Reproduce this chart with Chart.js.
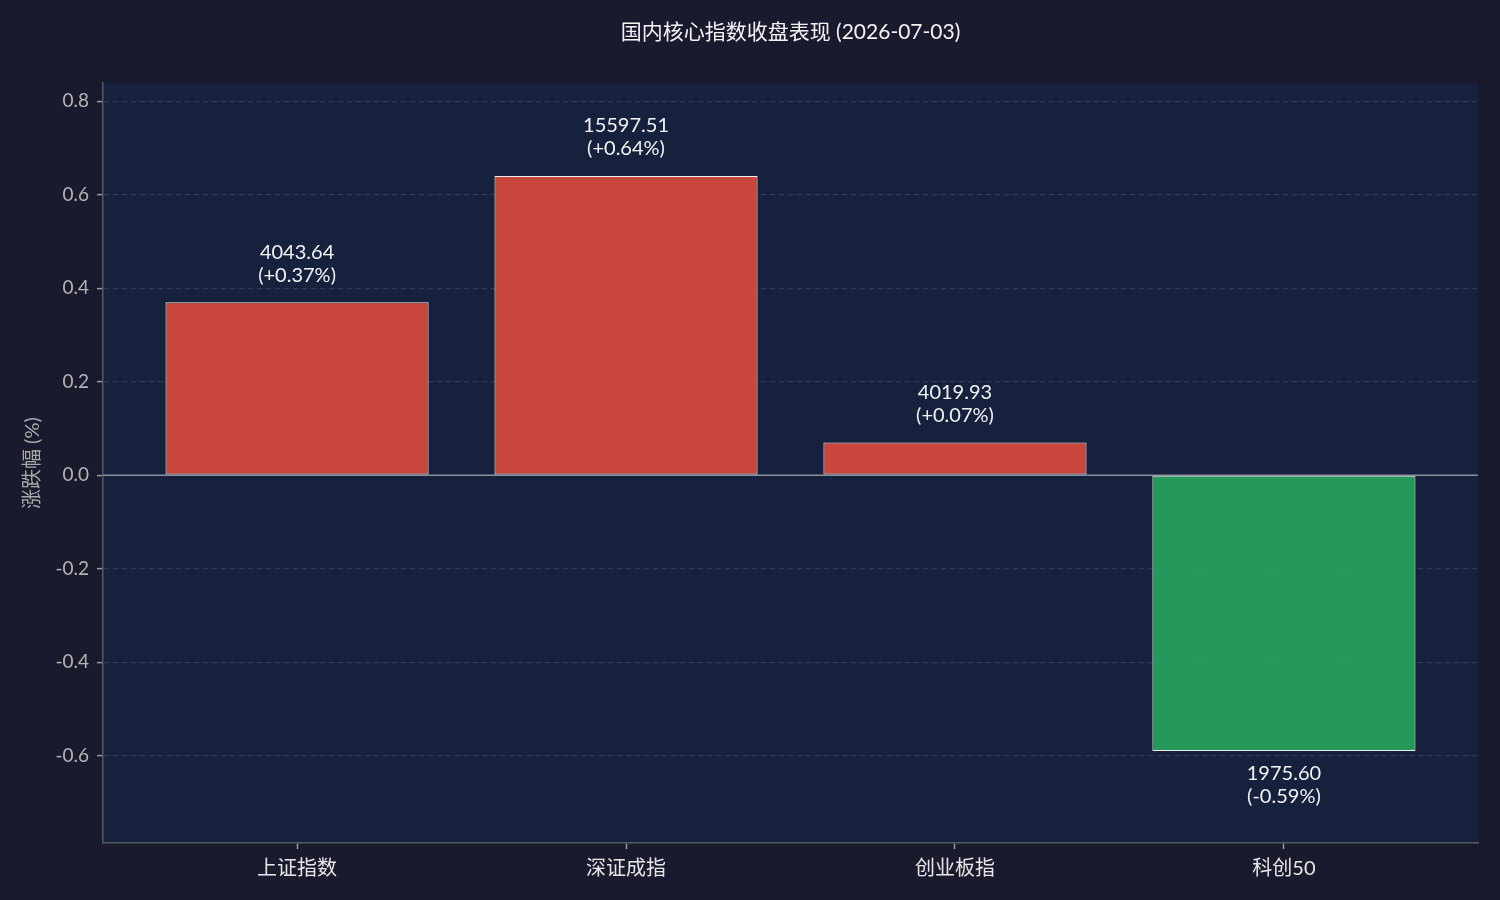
<!DOCTYPE html>
<html><head><meta charset="utf-8">
<script src="https://cdn.jsdelivr.net/npm/chart.js@4/dist/chart.umd.min.js"></script>
<style>html,body{margin:0;padding:0;background:#1a1a2e;}#wrap{width:1500px;height:900px;}</style>
</head><body><div id="wrap"><canvas id="c" width="1500" height="900"></canvas></div>
<script>
const categories = ['上证指数', '深证成指', '创业板指', '科创50'];
const changePct = [0.37, 0.64, 0.07, -0.59];
const closeValues = ['4043.64', '15597.51', '4019.93', '1975.60'];
const yTicks = [-0.6, -0.4, -0.2, 0.0, 0.2, 0.4, 0.6, 0.8];
const titleText = '国内核心指数收盘表现 (2026-07-03)';
const yTitle = '涨跌幅 (%)';

const FONT = "Lato, 'Noto Sans CJK SC', sans-serif";
const UP = 'rgba(231,76,60,0.85)', DOWN = 'rgba(39,174,96,0.85)';

const bgPlugin = {
  id: 'bg',
  beforeDraw(chart) {
    const {ctx, chartArea: a} = chart;
    ctx.save();
    ctx.fillStyle = '#1a1a2e';
    ctx.fillRect(0, 0, chart.width, chart.height);
    ctx.fillStyle = '#16213e';
    ctx.fillRect(a.left, a.top, a.right - a.left, a.bottom - a.top);
    ctx.restore();
  },
  beforeDatasetsDraw(chart) {
    const {ctx, chartArea: a} = chart;
    const y0 = chart.scales.y.getPixelForValue(0);
    ctx.save();
    ctx.strokeStyle = '#8a8f98';
    ctx.lineWidth = 1.5;
    ctx.beginPath();
    ctx.moveTo(a.left, y0);
    ctx.lineTo(a.right, y0);
    ctx.stroke();
    ctx.restore();
  }
};

const labelPlugin = {
  id: 'barLabels',
  afterDatasetsDraw(chart) {
    const {ctx} = chart;
    const meta = chart.getDatasetMeta(0);
    ctx.save();
    ctx.font = '20px ' + FONT;
    ctx.fillStyle = '#f2f2f2';
    ctx.textAlign = 'center';
    ctx.textBaseline = 'middle';
    meta.data.forEach((bar, i) => {
      const v = changePct[i];
      const pct = '(' + (v >= 0 ? '+' : '') + v.toFixed(2) + '%)';
      if (v >= 0) {
        ctx.fillText(closeValues[i], bar.x, bar.y - 50);
        ctx.fillText(pct, bar.x, bar.y - 27);
      } else {
        ctx.fillText(closeValues[i], bar.x, bar.y + 23);
        ctx.fillText(pct, bar.x, bar.y + 46);
      }
    });
    ctx.restore();
  }
};

new Chart(document.getElementById('c'), {
  type: 'bar',
  data: {
    datasets: [{
      data: changePct.map((v, i) => ({x: i, y: v})),
      backgroundColor: changePct.map(v => v >= 0 ? UP : DOWN),
      borderColor: '#f0f0f0',
      borderWidth: 1,
      borderSkipped: false,
      categoryPercentage: 1,
      barPercentage: 0.8
    }]
  },
  plugins: [bgPlugin, labelPlugin],
  options: {
    responsive: false,
    animation: false,
    devicePixelRatio: 1,
    layout: {padding: {left: 0, right: 22, top: 0, bottom: 0}},
    plugins: {
      legend: {display: false},
      tooltip: {enabled: false},
      title: {
        display: true,
        text: titleText,
        fullSize: false,
        color: '#f2f2f2',
        font: {family: FONT, size: 21, weight: 'normal'},
        padding: {top: 20, bottom: 38}
      }
    },
    scales: {
      x: {
        type: 'linear',
        offset: false,
        min: -0.59,
        max: 3.59,
        afterBuildTicks(scale) { scale.ticks = categories.map((c, i) => ({value: i})); },
        afterFit(scale) { scale.height = 57; },
        ticks: {
          callback: (v) => categories[v],
          color: '#e6e6e6',
          font: {family: FONT, size: 20},
          padding: 8,
          maxRotation: 0
        },
        grid: {offset: false, drawOnChartArea: false, drawTicks: true, tickLength: 6, tickColor: '#9a9a9a', tickWidth: 1.5},
        border: {display: true, color: '#555a63', width: 1.5}
      },
      y: {
        type: 'linear',
        min: -0.787,
        max: 0.8385,
        afterBuildTicks(scale) { scale.ticks = yTicks.map(v => ({value: v})); },
        afterFit(scale) { scale.width = 103; },
        ticks: {
          callback: (v) => v.toFixed(1),
          color: '#b4b4b4',
          font: {family: FONT, size: 19},
          padding: 8
        },
        title: {
          display: true,
          text: yTitle,
          color: '#a8a8a8',
          font: {family: FONT, size: 20},
          padding: {top: 21, bottom: 0}
        },
        grid: {
          color: (ctx) => (ctx.tick && Math.abs(ctx.tick.value) < 1e-9) ? 'rgba(0,0,0,0)' : '#2f3b52',
          lineWidth: 1.2,
          tickColor: '#9a9a9a',
          tickLength: 6,
          tickWidth: 1.5,
          tickBorderDash: []
        },
        border: {display: true, color: '#555a63', width: 1.5, dash: [6, 3]}
      }
    }
  }
});
</script></body></html>
